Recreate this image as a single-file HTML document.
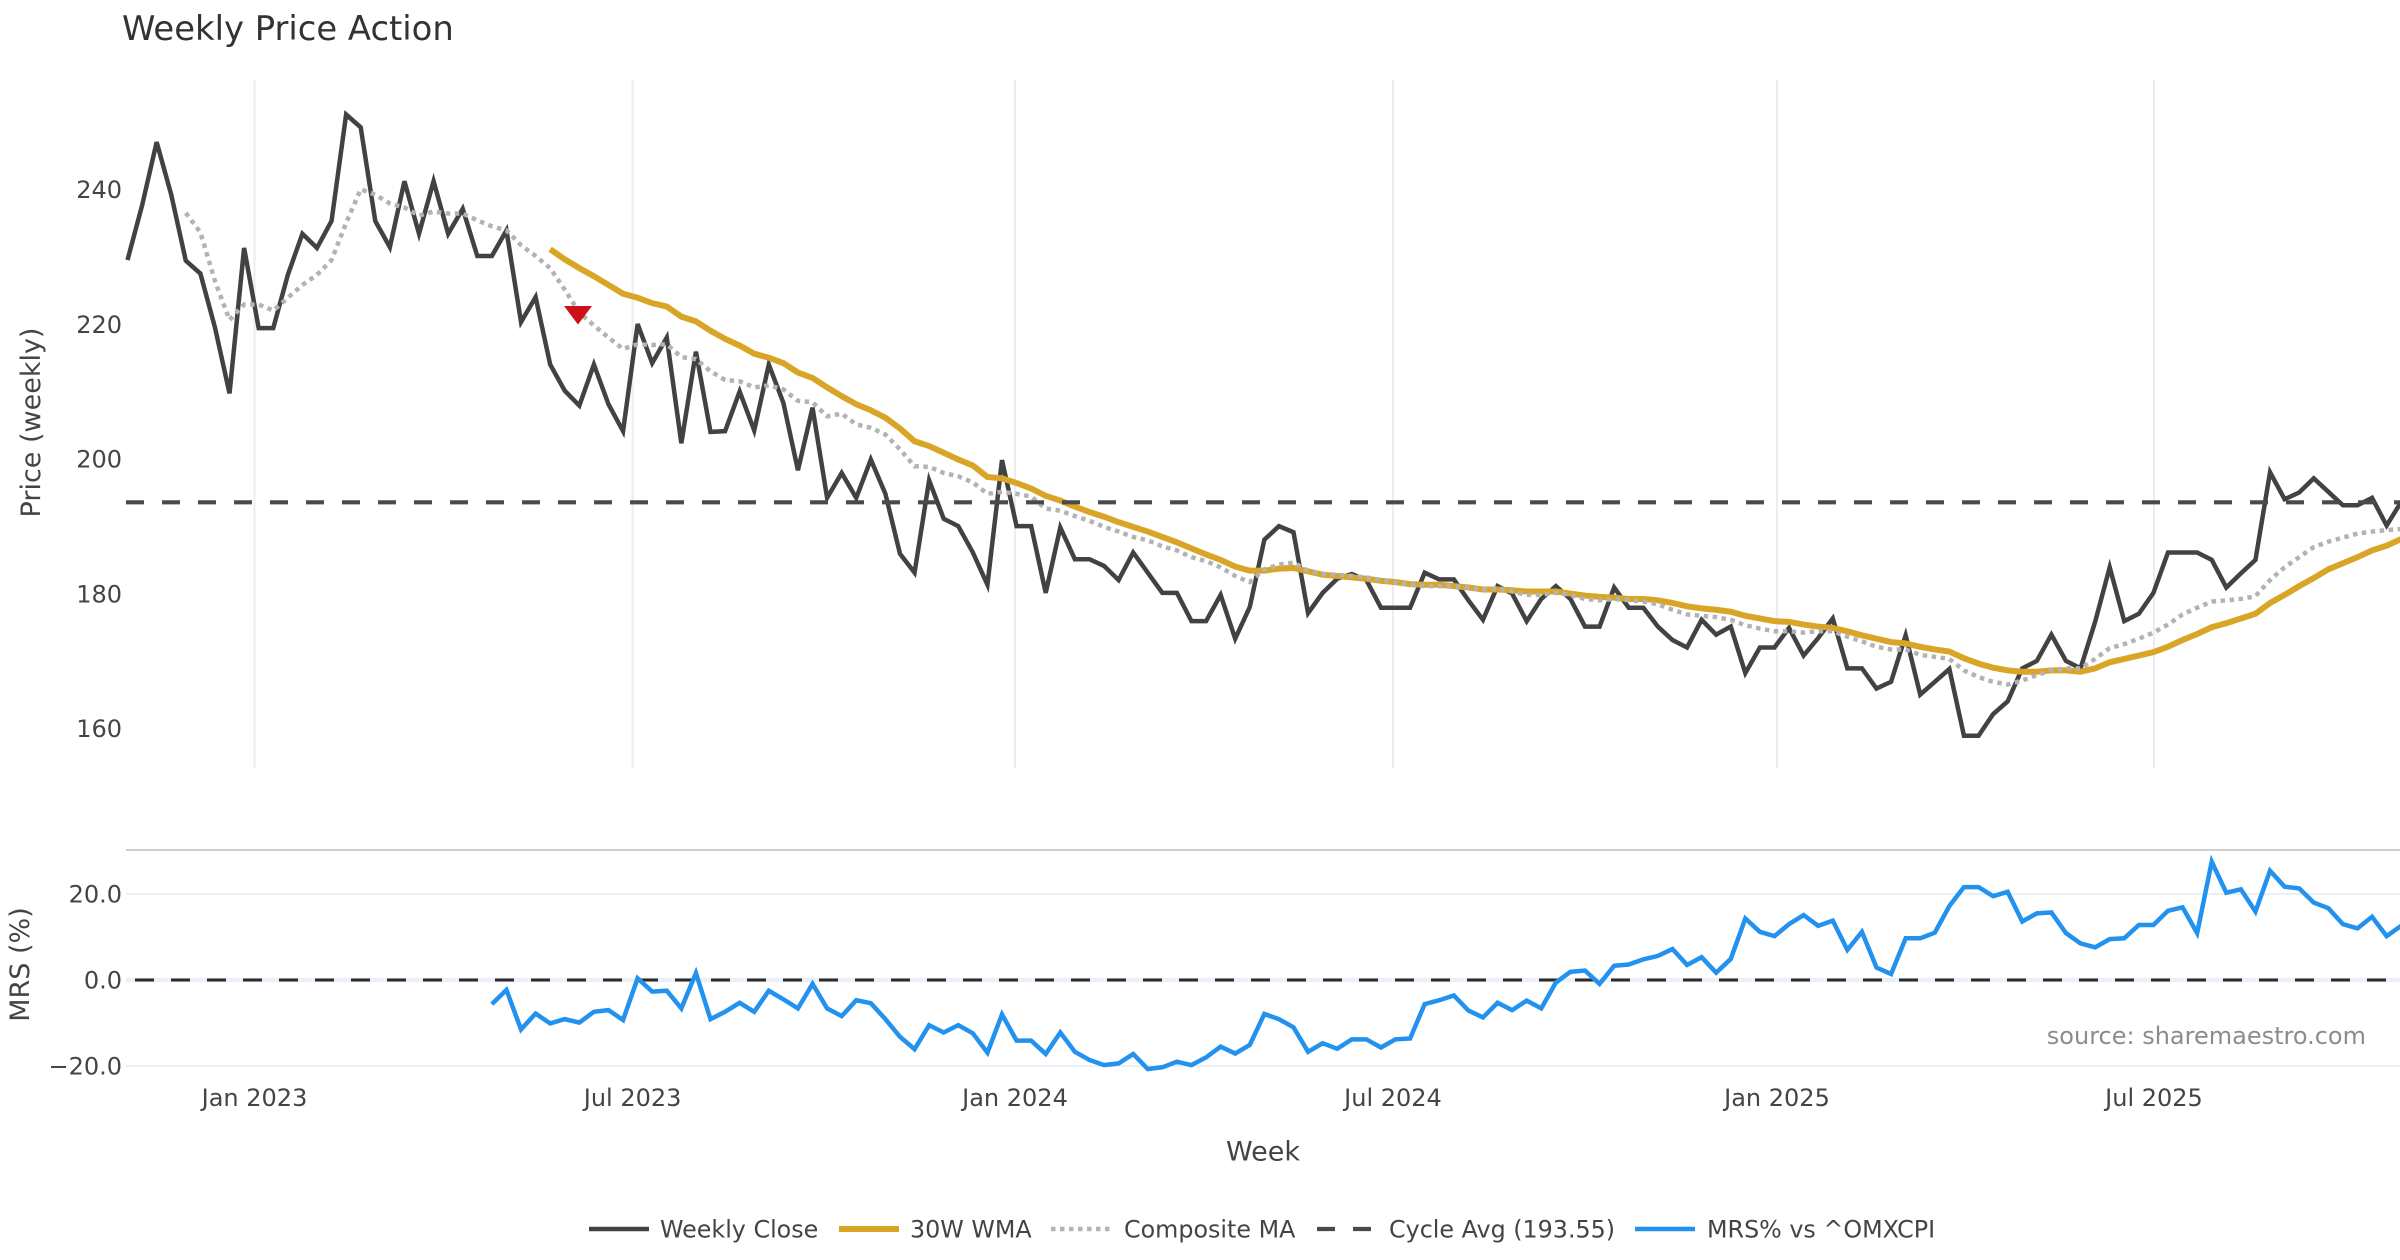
<!DOCTYPE html>
<html>
<head>
<meta charset="utf-8">
<style>
  html, body { margin:0; padding:0; background:#ffffff; }
  svg { display:block; }
  text { font-family: "DejaVu Sans", "Liberation Sans", sans-serif; }
</style>
</head>
<body>
<svg width="2400" height="1260" viewBox="0 0 2400 1260" xmlns="http://www.w3.org/2000/svg">
  <rect x="0" y="0" width="2400" height="1260" fill="#ffffff"/>

  <!-- Title -->
  <text x="122" y="40" font-size="33.8" fill="#333333">Weekly Price Action</text>

  <!-- Top panel vertical gridlines -->
  <g stroke="#ebedf0" stroke-width="2">
    <line x1="254.5" y1="80" x2="254.5" y2="768"/>
    <line x1="632.6" y1="80" x2="632.6" y2="768"/>
    <line x1="1015" y1="80" x2="1015" y2="768"/>
    <line x1="1393" y1="80" x2="1393" y2="768"/>
    <line x1="1777" y1="80" x2="1777" y2="768"/>
    <line x1="2154" y1="80" x2="2154" y2="768"/>
  </g>

  <!-- Top panel y tick labels -->
  <g font-size="24" fill="#444444" text-anchor="end">
    <text x="122" y="198">240</text>
    <text x="122" y="332.8">220</text>
    <text x="122" y="467.5">200</text>
    <text x="122" y="602.3">180</text>
    <text x="122" y="737">160</text>
  </g>
  <text transform="translate(40,422.5) rotate(-90)" font-size="27" fill="#444444" text-anchor="middle">Price (weekly)</text>

  <!-- Weekly Close -->
  <polyline fill="none" stroke="#424242" stroke-width="4.5" vector-effect="non-scaling-stroke"
    transform="translate(127.5 1806.3) scale(14.575 -6.7375)"
    points="0,229.5 1,237.6 2,247 3,239.2 4,229.4 5,227.5 6,219.5 7,209.7 8,231.3 9,219.4 10,219.4 11,227.3 12,233.4 13,231.3 14,235.3 15,251.1 16,249.2 17,235.3 18,231.4 19,241.2 20,233.4 21,241.2 22,233.4 23,237.1 24,230.1 25,230.1 26,233.9 27,220.3 28,224 29,214 30,210.1 31,207.9 32,214 33,208.1 34,204.1 35,220 36,214.2 37,218 38,202.3 39,215.9 40,204 41,204.1 42,210 43,204.2 44,214 45,208.3 46,198.3 47,207.6 48,194.2 49,197.9 50,194.2 51,199.9 52,194.8 53,185.9 54,183.1 55,196.8 56,191.1 57,190 58,186.1 59,181.3 60,199.8 61,190 62,190 63,180.1 64,189.8 65,185.1 66,185.1 67,184.1 68,182 69,186.1 70,183.1 71,180.1 72,180.1 73,175.9 74,175.9 75,179.8 76,173.3 77,178 78,188 79,190 80,189.1 81,177.1 82,180.1 83,182.2 84,182.9 85,182 86,177.9 87,177.9 88,177.9 89,183.1 90,182.1 91,182.1 92,179 93,176.1 94,181.1 95,180 96,175.9 97,179.2 98,181.1 99,179.2 100,175.1 101,175.1 102,180.9 103,177.9 104,177.9 105,175.1 106,173.1 107,172 108,176.1 109,173.9 110,175.1 111,168.2 112,172 113,172 114,174.9 115,170.8 116,173.4 117,176.3 118,168.9 119,168.9 120,165.9 121,166.9 122,173.8 123,165 124,166.9 125,168.8 126,158.9 127,158.9 128,162.1 129,164 130,168.9 131,170 132,173.9 133,170 134,168.9 135,175.8 136,183.9 137,175.9 138,177 139,180.1 140,186.1 141,186.1 142,186.1 143,185 144,180.9 145,183 146,185 147,198 148,194 149,195 150,197.1 151,195.1 152,193.1 153,193.1 154,194.2 155,190.1 156,193.6"/>

  <!-- 30W WMA -->
  <polyline fill="none" stroke="#d9a526" stroke-width="6" vector-effect="non-scaling-stroke"
    transform="translate(127.5 1806.3) scale(14.575 -6.7375)"
    points="29,231.1 30,229.6 31,228.3 32,227.1 33,225.8 34,224.5 35,223.9 36,223.1 37,222.6 38,221.1 39,220.4 40,219 41,217.8 42,216.8 43,215.6 44,215 45,214.2 46,212.8 47,212 48,210.6 49,209.3 50,208.1 51,207.2 52,206.1 53,204.5 54,202.6 55,201.9 56,200.9 57,199.9 58,199 59,197.3 60,197.1 61,196.4 62,195.6 63,194.5 64,193.8 65,192.9 66,192.1 67,191.4 68,190.6 69,189.9 70,189.2 71,188.4 72,187.6 73,186.7 74,185.8 75,185 76,184 77,183.4 78,183.4 79,183.7 80,183.8 81,183.3 82,182.8 83,182.6 84,182.4 85,182.2 86,181.9 87,181.7 88,181.4 89,181.3 90,181.3 91,181.1 92,180.9 93,180.6 94,180.6 95,180.5 96,180.3 97,180.3 98,180.3 99,180 100,179.7 101,179.5 102,179.4 103,179.2 104,179.2 105,179 106,178.6 107,178.1 108,177.8 109,177.6 110,177.3 111,176.7 112,176.3 113,175.9 114,175.8 115,175.4 116,175.1 117,174.9 118,174.4 119,173.8 120,173.3 121,172.8 122,172.6 123,172.1 124,171.7 125,171.4 126,170.4 127,169.6 128,169 129,168.6 130,168.4 131,168.4 132,168.6 133,168.6 134,168.4 135,168.9 136,169.8 137,170.3 138,170.8 139,171.3 140,172.1 141,173.1 142,174 143,175 144,175.6 145,176.3 146,177 147,178.6 148,179.8 149,181.1 150,182.3 151,183.6 152,184.5 153,185.4 154,186.4 155,187.1 156,188.1"/>

  <!-- Composite MA -->
  <polyline fill="none" stroke="#b3b3b3" stroke-width="4.5" stroke-dasharray="4.5 4.5" vector-effect="non-scaling-stroke"
    transform="translate(127.5 1806.3) scale(14.575 -6.7375)"
    points="4,236.5 5,233.6 6,226.4 7,220.6 8,222.9 9,222.9 10,222 11,223.9 12,225.8 13,227.3 14,229.5 15,235 16,240 17,239.2 18,237.9 19,237.3 20,236.1 21,236.7 22,236.4 23,236.4 24,235.4 25,234.5 26,233.9 27,231.7 28,230.1 29,228.3 30,225.1 31,221.7 32,219.8 33,218 34,216.3 35,217 36,216.9 37,217 38,215.1 39,214.8 40,213 41,211.7 42,211.5 43,210.6 44,210.9 45,210.3 46,208.6 47,208.4 48,206.3 49,206.7 50,205.1 51,204.6 52,203.6 53,201.4 54,198.9 55,198.8 56,197.9 57,197.4 58,196.5 59,194.8 60,195.1 61,194.8 62,194.4 63,192.6 64,192.3 65,191.5 66,190.8 67,189.9 68,189.2 69,188.4 70,187.9 71,187 72,186.4 73,185.4 74,184.8 75,183.9 76,182.6 77,181.7 78,183.6 79,184.3 80,184.6 81,183.4 82,182.9 83,182.8 84,182.6 85,182.4 86,182 87,181.7 88,181.3 89,181.1 90,181.1 91,181.1 92,180.8 93,180.6 94,180.8 95,180.3 96,179.8 97,179.8 98,180.1 99,179.8 100,179.2 101,179 102,179.2 103,179 104,178.8 105,178.4 106,177.6 107,176.9 108,176.7 109,176.5 110,176.1 111,175.3 112,174.8 113,174.4 114,174.4 115,174.2 116,174.4 117,174.4 118,173.6 119,172.9 120,172.1 121,171.7 122,171.7 123,170.9 124,170.6 125,170.3 126,168.6 127,167.6 128,166.9 129,166.5 130,167.1 131,167.9 132,168.6 133,168.9 134,168.9 135,170.3 136,171.9 137,172.5 138,173.3 139,174.2 140,175.4 141,176.9 142,177.9 143,178.8 144,179 145,179.2 146,179.6 147,182 148,183.9 149,185.4 150,186.9 151,187.7 152,188.3 153,188.9 154,189.2 155,189.4 156,189.6"/>

  <!-- Cycle Avg -->
  <line x1="126" y1="502.3" x2="2400" y2="502.3" stroke="#4a4a4a" stroke-width="4.2" stroke-dasharray="18 18"/>

  <!-- Red marker -->
  <polygon points="564,306 592,306 578,324.5" fill="#cc1016"/>

  <!-- Separator -->
  <line x1="126" y1="850" x2="2400" y2="850" stroke="#cfcfcf" stroke-width="2"/>

  <!-- Bottom panel grid -->
  <g stroke="#ebf0f8">
    <line x1="126" y1="894" x2="2400" y2="894" stroke-width="2"/>
    <line x1="126" y1="1066" x2="2400" y2="1066" stroke-width="2"/>
    <line x1="126" y1="980" x2="2400" y2="980" stroke-width="4.5"/>
  </g>
  <line x1="126" y1="980" x2="2400" y2="980" stroke="#2b2b2b" stroke-width="3" stroke-dasharray="19 17" stroke-dashoffset="27"/>

  <g font-size="24" fill="#444444" text-anchor="end">
    <text x="122" y="902.7">20.0</text>
    <text x="122" y="988.7">0.0</text>
    <text x="122" y="1074.7">−20.0</text>
  </g>
  <text transform="translate(29,964.5) rotate(-90)" font-size="27" fill="#444444" text-anchor="middle">MRS (%)</text>

  <!-- MRS -->
  <polyline fill="none" stroke="#2292ee" stroke-width="4.5" vector-effect="non-scaling-stroke"
    transform="translate(127.5 980) scale(14.575 -4.3)"
    points="25,-5.6 26,-2.3 27,-11.5 28,-7.8 29,-10.1 30,-9.1 31,-9.9 32,-7.4 33,-7 34,-9.3 35,0.4 36,-2.7 37,-2.5 38,-6.6 39,1.6 40,-9.1 41,-7.4 42,-5.3 43,-7.4 44,-2.5 45,-4.5 46,-6.6 47,-0.9 48,-6.6 49,-8.4 50,-4.7 51,-5.4 52,-9.1 53,-13.2 54,-16.1 55,-10.5 56,-12.2 57,-10.5 58,-12.4 59,-16.9 60,-8 61,-14.1 62,-14.1 63,-17.2 64,-12.2 65,-16.7 66,-18.6 67,-19.8 68,-19.4 69,-17.2 70,-20.7 71,-20.3 72,-19 73,-19.8 74,-18 75,-15.5 76,-17.1 77,-15.1 78,-7.9 79,-9.1 80,-11 81,-16.7 82,-14.7 83,-16 84,-13.8 85,-13.8 86,-15.7 87,-13.8 88,-13.6 89,-5.6 90,-4.7 91,-3.6 92,-7.1 93,-8.7 94,-5.3 95,-7 96,-4.8 97,-6.6 98,-0.6 99,1.9 100,2.2 101,-0.9 102,3.3 103,3.6 104,4.8 105,5.6 106,7.2 107,3.5 108,5.3 109,1.7 110,4.9 111,14.3 112,11.2 113,10.2 114,13 115,15.1 116,12.6 117,13.8 118,7 119,11.2 120,2.9 121,1.4 122,9.7 123,9.7 124,11 125,17.2 126,21.6 127,21.6 128,19.5 129,20.5 130,13.6 131,15.5 132,15.7 133,10.9 134,8.5 135,7.6 136,9.5 137,9.7 138,12.8 139,12.8 140,16.1 141,16.9 142,10.9 143,27.5 144,20.3 145,21.1 146,15.9 147,25.4 148,21.7 149,21.3 150,18 151,16.7 152,13 153,12 154,14.7 155,10.2 156,12.6"/>

  <!-- Source -->
  <text x="2366" y="1044" font-size="24" fill="#8c8c8c" text-anchor="end">source: sharemaestro.com</text>

  <!-- X tick labels -->
  <g font-size="24" fill="#444444" text-anchor="middle">
    <text x="254.5" y="1106">Jan 2023</text>
    <text x="632.6" y="1106">Jul 2023</text>
    <text x="1015" y="1106">Jan 2024</text>
    <text x="1393" y="1106">Jul 2024</text>
    <text x="1777" y="1106">Jan 2025</text>
    <text x="2154" y="1106">Jul 2025</text>
  </g>
  <text x="1263" y="1160.5" font-size="27" fill="#444444" text-anchor="middle">Week</text>

  <!-- Legend -->
  <line x1="589" y1="1229" x2="649" y2="1229" stroke="#424242" stroke-width="4.5"/>
  <text x="660" y="1237.5" font-size="23.8" fill="#444444">Weekly Close</text>
  <line x1="839" y1="1229" x2="899" y2="1229" stroke="#d9a526" stroke-width="6"/>
  <text x="910" y="1237.5" font-size="23.8" fill="#444444">30W WMA</text>
  <line x1="1051" y1="1229" x2="1111" y2="1229" stroke="#b3b3b3" stroke-width="4.5" stroke-dasharray="4.5 4.5"/>
  <text x="1124" y="1237.5" font-size="23.8" fill="#444444">Composite MA</text>
  <line x1="1317" y1="1229" x2="1377" y2="1229" stroke="#4a4a4a" stroke-width="4.2" stroke-dasharray="18 18"/>
  <text x="1389" y="1237.5" font-size="23.8" fill="#444444">Cycle Avg (193.55)</text>
  <line x1="1635" y1="1229" x2="1695" y2="1229" stroke="#2292ee" stroke-width="4.5"/>
  <text x="1707" y="1237.5" font-size="23.8" fill="#444444">MRS% vs ^OMXCPI</text>
</svg>
</body>
</html>
